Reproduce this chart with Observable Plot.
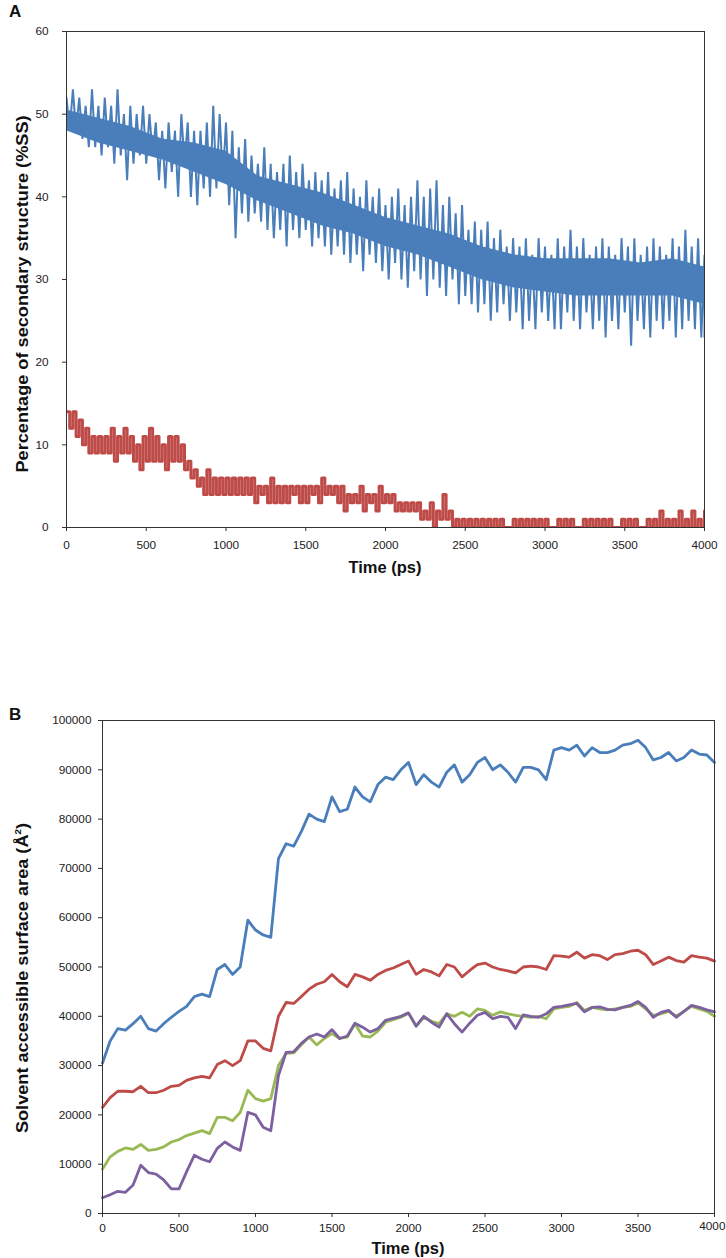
<!DOCTYPE html>
<html><head><meta charset="utf-8">
<script src="https://cdn.jsdelivr.net/npm/d3@7"></script>
<script src="https://cdn.jsdelivr.net/npm/@observablehq/plot@0.6"></script>
<style>
body{margin:0;background:#fff;font-family:"Liberation Sans",Arial,sans-serif;}
#wrap{position:relative;width:726px;height:1258px;overflow:hidden;background:#fff}
.abs{position:absolute}
.lbl{font-weight:bold;font-size:16.5px;color:#111;white-space:nowrap;line-height:1}
.panel{font-weight:bold;font-size:17px;color:#111;line-height:1}
.rot{transform:translate(-50%,-50%) rotate(-90deg) scaleX(1.1)}
.ctr{transform:translate(-50%,-50%)}
#pa,#pb{position:absolute;left:0}
#pa{top:0}
#pb{top:690px}
</style></head><body>
<div id="wrap">
  <div id="pa"></div>
  <div id="pb"></div>
  <div class="abs panel" style="left:9px;top:3px">A</div>
  <div class="abs panel" style="left:9px;top:706px">B</div>
  <div class="abs lbl rot" style="left:22px;top:294px">Percentage of secondary structure (%SS)</div>
  <div class="abs lbl ctr" style="left:385px;top:567px">Time (ps)</div>
  <div class="abs lbl rot" style="left:22px;top:978px">Solvent accessible surface area (Å<sup style="font-size:9px;vertical-align:7px">2</sup>)</div>
  <div class="abs lbl ctr" style="left:408px;top:1248px">Time (ps)</div>
</div>
<script>
// ---------- Panel A: % secondary structure ----------
// noisy trace: highs and lows read every 40 ps
const timeStepA = 40;
const blueHighA = [52,53,52,51,53,51,52,51,53,50,51,50,51,50,49,48,49,48,50,49,48,48,49,51,50,49,48,46,47,45,44,46,44,43,44,45,43,44,42,43,42,43,41,42,43,41,40,42,40,41,39,40,41,39,40,42,40,41,42,39,40,38,39,36,37,36,37,35,36,34,35,34,35,33,35,34,33,35,34,36,34,35,33,34,35,34,33,35,34,35,33,34,35,34,33,35,34,36,34,35,33];
const blueLowA  = [48,48,47,46,46,45,46,44,45,42,44,45,44,45,42,41,43,40,44,40,39,41,40,41,42,39,35,38,37,38,37,36,35,36,34,36,35,36,34,35,34,33,34,33,32,33,31,33,32,31,30,32,30,29,31,30,28,30,29,28,30,27,28,27,26,27,25,26,27,25,26,24,25,24,26,25,24,24,26,25,24,26,24,25,23,25,24,26,22,25,24,23,25,24,25,23,24,25,24,23,23];
// dense core of the blue trace, read every 200 ps
const timeStepCore = 200;
const blueCoreHigh = [50.5,49.5,48.5,47,46.5,45.5,42.5,41.5,40.5,39,37.5,36.5,35.5,34,33,32.5,32.5,32.5,32,32.5,31.5];
const blueCoreLow  = [48,46.5,45.5,44.5,43,41.5,39.5,38,36.5,35.5,34,33,31.5,30,29,28.5,28,28,28,28,27];
const redHighA  = [14,14,13,12,11,11,11,12,11,12,11,10,11,12,11,10,11,11,10,8,7,6,7,6,6,6,6,6,6,6,5,5,6,5,5,5,5,5,5,5,6,5,5,5,4,4,5,4,4,5,4,4,3,3,3,3,2,3,2,4,2,1,1,1,1,1,1,1,1,0,1,1,1,1,1,1,0,1,1,1,0,1,1,1,1,1,0,1,1,1,0,1,1,2,1,1,2,1,2,1,2];
const redLowA   = [12,11,10,9,9,9,9,8,9,9,8,7,8,8,8,7,8,8,7,6,5,4,4,4,4,4,4,4,4,3,4,3,3,3,3,4,3,3,4,3,4,4,3,2,3,3,2,3,2,3,3,2,2,2,2,1,1,0,1,1,0,0,0,0,0,0,0,0,0,0,0,0,0,0,0,0,0,0,0,0,0,0,0,0,0,0,0,0,0,0,0,0,0,0,0,0,0,0,0,0,0];
const xTicks = [0,500,1000,1500,2000,2500,3000,3500,4000];
const yTicksA = [0,10,20,30,40,50,60];

// ---------- Panel B: solvent accessible surface area (read every 50 ps) ----------
const timeStepB = 50;
const sasaBlue   = [30500,35000,37500,37200,38500,40000,37500,37000,38500,39800,41000,42000,44000,44500,44000,49500,50500,48500,50000,59500,57500,56500,56000,72000,75000,74500,77500,81000,80000,79500,84500,81500,82000,86500,84500,83500,87000,88500,88000,90000,91500,87000,89000,87500,86500,89500,91000,87500,89000,91500,92500,90000,91000,89500,87500,90500,90500,90000,88000,94000,94500,94000,95000,92800,94500,93500,93500,94000,95000,95300,96000,94500,92000,92500,93500,91800,92500,94000,93200,93000,91500];
const sasaRed    = [21500,23500,24800,24800,24700,25800,24500,24500,25000,25800,26000,27000,27500,27800,27500,30200,31000,30000,31000,35000,35000,33500,33000,40000,42800,42600,44000,45500,46500,47000,48500,47000,46000,48500,48000,47300,48500,49300,49800,50500,51200,48500,49500,49000,48200,50500,50000,48000,49300,50500,50800,50000,49500,49200,48800,50000,50200,50000,49500,52300,52200,52000,53000,51800,52500,52300,51500,52500,52700,53200,53400,52500,50500,51200,52000,51300,51000,52300,52000,51800,51200];
const sasaGreen  = [9000,11500,12600,13300,13000,14000,12800,13000,13500,14500,15000,15800,16300,16800,16200,19500,19500,18800,20500,25000,23300,22800,23300,30000,32500,32600,34200,35800,34200,35500,36500,35500,35800,38500,36000,35800,37000,38800,39300,39800,40600,38000,39800,39000,38500,40500,40000,40800,40000,41500,41200,40200,40900,40500,40200,40000,39800,40000,39500,41500,41800,42000,42800,41200,41800,41500,41300,41500,41800,42000,42700,41500,40200,40500,41000,40000,41000,42000,41500,41000,40000];
const sasaPurple = [3200,3800,4500,4300,5800,9800,8300,8000,6800,5000,5000,8500,11800,11000,10500,13200,14500,13500,12800,20500,20000,17500,16800,28000,32700,32800,34500,35800,36400,35800,37300,35500,36000,38600,37800,36800,37500,39200,39600,40000,40700,38000,40000,38800,37800,40500,38500,36800,38600,40200,40800,39500,40000,39800,37500,40300,40000,39800,40500,41800,42000,42300,42600,40900,41800,41900,41400,41300,41800,42200,43000,41800,39800,40800,41200,39800,41000,42200,41800,41300,40900];
const yTicksB = [0,10000,20000,30000,40000,50000,60000,70000,80000,90000,100000];

const colors = {blue:"#4a7ebb", red:"#be4b48", green:"#98b954", purple:"#7d60a0"};

function zigzag(high, low, step) {
  const rows = [];
  high.forEach((h, i) => {
    rows.push({t: i * step, v: h});
    if (i < high.length - 1) rows.push({t: i * step + step / 2, v: low[i]});
    else rows.push({t: i * step, v: low[i]});
  });
  return rows;
}
function band(high, low, step) { return high.map((h, i) => ({t: i * step, hi: h, lo: low[i]})); }
function series(values, step) { return values.map((v, i) => ({t: i * step, v})); }

const baseStyle = {fontFamily: "'Liberation Sans', Arial, sans-serif", fontSize: "11.8px", color: "#222", background: "#fff"};
const lastTick = xTicks[xTicks.length - 1];
const fmtInner = d => d === lastTick ? "" : String(d);

const chartA = Plot.plot({
  width: 726, height: 580,
  marginLeft: 66, marginRight: 22, marginTop: 31, marginBottom: 53,
  style: baseStyle,
  x: {domain: [0, 4000]},
  y: {domain: [0, 60]},
  marks: [
    Plot.areaY(band(blueCoreHigh, blueCoreLow, timeStepCore), {x: "t", y1: "lo", y2: "hi", fill: colors.blue, clip: true}),
    Plot.lineY(zigzag(blueHighA, blueLowA, timeStepA), {x: "t", y: "v", stroke: colors.blue, strokeWidth: 2, strokeLinejoin: "miter", strokeMiterlimit: 2, clip: true}),
    Plot.lineY(zigzag(redHighA, redLowA, timeStepA), {x: "t", y: "v", stroke: colors.red, strokeWidth: 3, curve: "step-after", clip: true}),
    Plot.frame({stroke: "#333", strokeWidth: 1}),
    Plot.axisX({ticks: xTicks, tickSize: 4, tickPadding: 9, label: null, stroke: "#333", tickFormat: d => String(d)}),
    Plot.axisY({ticks: yTicksA, tickSize: 4, tickPadding: 14, label: null, stroke: "#333"})
  ]
});
document.getElementById("pa").append(chartA);

const chartB = Plot.plot({
  width: 726, height: 568,
  marginLeft: 102, marginRight: 12, marginTop: 30, marginBottom: 45,
  style: baseStyle,
  x: {domain: [0, 4000]},
  y: {domain: [0, 100000]},
  marks: [
    Plot.lineY(series(sasaBlue, timeStepB), {x: "t", y: "v", stroke: colors.blue, strokeWidth: 2.8}),
    Plot.lineY(series(sasaRed, timeStepB), {x: "t", y: "v", stroke: colors.red, strokeWidth: 2.8}),
    Plot.lineY(series(sasaGreen, timeStepB), {x: "t", y: "v", stroke: colors.green, strokeWidth: 2.8}),
    Plot.lineY(series(sasaPurple, timeStepB), {x: "t", y: "v", stroke: colors.purple, strokeWidth: 2.8}),
    Plot.frame({stroke: "#333", strokeWidth: 1}),
    Plot.axisX({ticks: xTicks, tickSize: 4, tickPadding: 6, label: null, stroke: "#333", tickFormat: fmtInner}),
    Plot.text([lastTick], {x: d => d, frameAnchor: "bottom", dy: 16, dx: 11, textAnchor: "end", text: d => String(d), fill: "#222"}),
    Plot.axisY({ticks: yTicksB, tickSize: 4, tickPadding: 7, label: null, tickFormat: d => String(d), stroke: "#333"})
  ]
});
document.getElementById("pb").append(chartB);
</script>
</body></html>
